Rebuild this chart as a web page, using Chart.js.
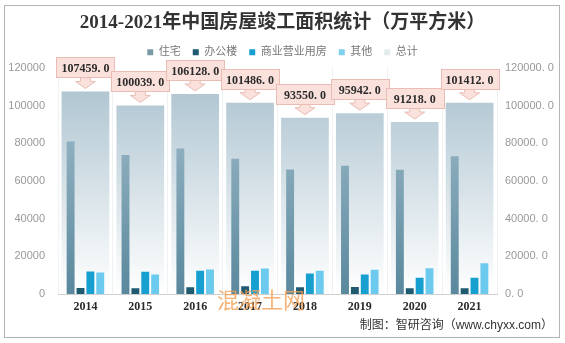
<!DOCTYPE html>
<html>
<head>
<meta charset="utf-8">
<style>
  body { margin: 0; background: #fff; }
  #wrap { width: 565px; height: 343px; }
</style>
<script src="https://cdn.jsdelivr.net/npm/chart.js@4/dist/chart.umd.min.js"></script>
</head>
<body>
<div id="wrap"><canvas id="chart" width="565" height="343"></canvas></div>
<script>
const years = ["2014", "2015", "2016", "2017", "2018", "2019", "2020", "2021"];
const housing = [80868, 73777, 77185, 71815, 66016, 68011, 65910, 73016];
const office = [3144, 3100, 3600, 4100, 3600, 3700, 3100, 3100];
const commercial = [12000, 11800, 12300, 12300, 10900, 10300, 8600, 8600];
const other = [11400, 10400, 13000, 13500, 12300, 12900, 13600, 16300];
const total = [107459, 100039, 106128, 101486, 93550, 95942, 91218, 101412];
const yTicks = [0, 20000, 40000, 60000, 80000, 100000, 120000];

const serif = "'Liberation Serif', 'Noto Sans CJK SC', serif";
const sans = "'Liberation Sans', 'Noto Sans CJK SC', sans-serif";

function vGradient(ctx, top, bottom) {
  const area = ctx.chart.chartArea;
  if (!area) return top;
  const g = ctx.chart.ctx.createLinearGradient(0, area.top, 0, area.bottom);
  g.addColorStop(0, top);
  g.addColorStop(1, bottom);
  return g;
}

// frame, callouts, footer
const extras = {
  id: "extras",
  beforeDraw(chart) {
    const c = chart.ctx;
    c.save();
    c.fillStyle = "#fff";
    c.fillRect(0, 0, chart.width, chart.height);
    c.strokeStyle = "#b4b4b4";
    c.lineWidth = 1;
    c.strokeRect(4.5, 5.5, 555, 332);
    c.restore();
  },
  afterDatasetsDraw(chart) {
    const c = chart.ctx;
    const meta = chart.getDatasetMeta(4);
    c.save();
    meta.data.forEach((bar, i) => {
      const x = bar.x;
      const top = bar.y;
      const w = 58, h = 20;
      const bx = Math.round(x - w / 2) + 0.5;
      const by = Math.round(top - 14 - h) + 0.5;
      // arrow
      c.fillStyle = "#fbe1dc";
      c.strokeStyle = "#e9bdb4";
      c.beginPath();
      c.moveTo(x - 5, by + h);
      c.lineTo(x - 5, top - 10);
      c.lineTo(x - 10, top - 10);
      c.lineTo(x, top - 3);
      c.lineTo(x + 10, top - 10);
      c.lineTo(x + 5, top - 10);
      c.lineTo(x + 5, by + h);
      c.closePath();
      c.fill();
      c.stroke();
      // box
      c.fillRect(bx, by, w, h);
      c.strokeRect(bx, by, w, h);
      c.fillStyle = "#2b2b2b";
      c.font = "bold 12px " + serif;
      c.textAlign = "center";
      c.textBaseline = "middle";
      c.fillText(total[i].toFixed(1).replace(".", ". "), x, by + h / 2 + 1);
    });
    c.restore();
  },
  afterDraw(chart) {
    const c = chart.ctx;
    c.save();
    c.fillStyle = "#333";
    c.font = "12px " + sans;
    c.textAlign = "right";
    c.textBaseline = "middle";
    c.fillText("制图：智研咨询（www.chyxx.com）", 553, 326);
    c.globalAlpha = 0.8;
    c.fillStyle = "#f5a055";
    c.font = "22px 'Noto Sans CJK SC', sans-serif";
    c.textAlign = "center";
    c.fillText("混凝土网", 261, 300);
    c.restore();
  }
};

new Chart(document.getElementById("chart"), {
  type: "bar",
  data: {
    labels: years,
    datasets: [
      {
        label: "住宅", data: housing,
        backgroundColor: ctx => vGradient(ctx, "#a9c3d0", "#5a889d"),
        categoryPercentage: 0.72, barPercentage: 0.8
      },
      {
        label: "办公楼", data: office,
        backgroundColor: "#1e5a70", categoryPercentage: 0.72, barPercentage: 0.8
      },
      {
        label: "商业营业用房", data: commercial,
        backgroundColor: "#179fd0", categoryPercentage: 0.72, barPercentage: 0.8
      },
      {
        label: "其他", data: other,
        backgroundColor: "#6ccaee", categoryPercentage: 0.72, barPercentage: 0.8
      },
      {
        label: "总计", data: total, grouped: false,
        backgroundColor: ctx => vGradient(ctx, "#a8c0cd", "#ffffff"),
        categoryPercentage: 0.87, barPercentage: 1
      }
    ]
  },
  options: {
    responsive: false,
    animation: false,
    layout: { padding: { left: 8, right: 8, top: 12, bottom: 27 } },
    plugins: {
      title: {
        display: true,
        text: "2014-2021年中国房屋竣工面积统计（万平方米）",
        color: "#333",
        font: { family: serif, size: 19, weight: "bold" },
        padding: { top: 0, bottom: 0 }
      },
      legend: {
        display: true,
        labels: {
          boxWidth: 6, boxHeight: 6, padding: 12,
          color: "#777",
          font: { family: sans, size: 11 },
          generateLabels(chart) {
            const cols = ["#7a9aa8", "#1e5a70", "#179fd0", "#80d0f0", "#e4ebee"];
            return chart.data.datasets.map((d, i) => ({
              text: d.label, fillStyle: cols[i], strokeStyle: cols[i],
              lineWidth: 0, datasetIndex: i, fontColor: "#777"
            }));
          }
        }
      },
      tooltip: { enabled: false }
    },
    scales: {
      x: {
        offset: true,
        grid: { display: true, offset: true, color: "#eef2f4", drawTicks: false },
        border: { color: "#d0d0d0" },
        ticks: { color: "#2b2b2b", font: { family: serif, size: 12, weight: "bold" }, padding: 6 },
        afterFit(s) { s.height = 22; }
      },
      y: {
        position: "left", min: 0, max: 120000,
        afterBuildTicks(s) { s.ticks = yTicks.map(v => ({ value: v })); },
        grid: { display: false },
        border: { display: false },
        ticks: { color: "#999", font: { family: sans, size: 11 }, padding: 5, callback: v => String(v) },
        afterFit(s) { s.width = 50; s.paddingTop = 0; }
      },
      y2: {
        position: "right", min: 0, max: 120000,
        afterBuildTicks(s) { s.ticks = yTicks.map(v => ({ value: v })); },
        grid: { display: false },
        border: { display: false },
        ticks: {
          color: "#999", font: { family: sans, size: 11 }, padding: 0,
          callback: v => v.toFixed(1).replace(".", ". ")
        },
        afterFit(s) { s.width = 60; }
      }
    }
  },
  plugins: [extras]
});
</script>
</body>
</html>
